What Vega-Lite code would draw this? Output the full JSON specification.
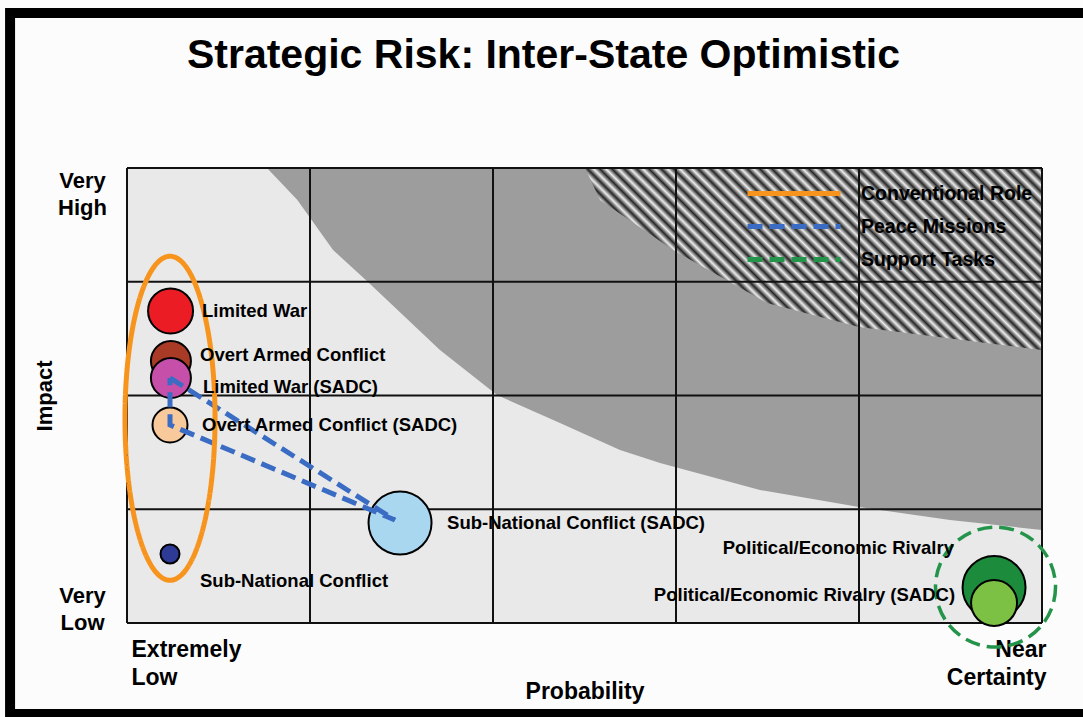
{
  "$schema": "https://vega.github.io/schema/vega-lite/v6.json",
  "width": 915,
  "height": 455,
  "autosize": {"type": "none"},
  "padding": {"left": 127, "top": 168, "right": 41, "bottom": 94},
  "background": "#fcfcfc",
  "title": {
    "text": "Strategic Risk: Inter-State Optimistic",
    "font": "Liberation Sans",
    "fontSize": 41,
    "fontWeight": "bold",
    "color": "#000000",
    "anchor": "middle",
    "frame": "group",
    "baseline": "bottom",
    "dx": -41,
    "offset": -110
  },
  "resolve": {"axis": {"x": "independent", "y": "independent"}},
  "datasets": {
    "bubbles": [
      {"name": "Limited War", "x": 0.238, "y": 2.743, "magnitude": 4.5, "lx": 0.41, "ly": 2.743},
      {"name": "Overt Armed Conflict", "x": 0.24, "y": 2.303, "magnitude": 4.0, "lx": 0.399, "ly": 2.356},
      {"name": "Limited War (SADC)", "x": 0.24, "y": 2.154, "magnitude": 4.0, "lx": 0.415, "ly": 2.075},
      {"name": "Overt Armed Conflict (SADC)", "x": 0.235, "y": 1.741, "magnitude": 3.5, "lx": 0.41, "ly": 1.741},
      {"name": "Sub-National Conflict", "x": 0.235, "y": 0.607, "magnitude": 1.9, "lx": 0.399, "ly": 0.369},
      {"name": "Sub-National Conflict (SADC)", "x": 1.492, "y": 0.879, "magnitude": 6.3, "lx": 1.749, "ly": 0.879},
      {"name": "Political/Economic Rivalry", "x": 4.738, "y": 0.312, "magnitude": 6.3, "lx": 4.519, "ly": 0.659},
      {"name": "Political/Economic Rivalry (SADC)", "x": 4.738, "y": 0.176, "magnitude": 4.6, "lx": 4.525, "ly": 0.246}
    ],
    "missions": [
      {"role": "Peace Missions", "step": 1, "x": 0.235, "y": 2.154},
      {"role": "Peace Missions", "step": 2, "x": 1.464, "y": 0.905},
      {"role": "Peace Missions", "step": 3, "x": 0.235, "y": 1.741},
      {"role": "Peace Missions", "step": 4, "x": 0.235, "y": 2.154}
    ],
    "groups": [
      {"role": "Conventional Role", "x": 0.235, "y": 1.8},
      {"role": "Support Tasks", "x": 4.746, "y": 0.316}
    ],
    "hatch": [
      {"band": "fine", "x": 0.765, "y": 4.0},
      {"band": "fine", "x": 0.93, "y": 3.72},
      {"band": "fine", "x": 1.126, "y": 3.279},
      {"band": "fine", "x": 1.311, "y": 3.007},
      {"band": "fine", "x": 1.71, "y": 2.4},
      {"band": "fine", "x": 2.022, "y": 2.004},
      {"band": "fine", "x": 2.366, "y": 1.758},
      {"band": "fine", "x": 2.694, "y": 1.521},
      {"band": "fine", "x": 2.913, "y": 1.407},
      {"band": "fine", "x": 3.459, "y": 1.169},
      {"band": "fine", "x": 4.0, "y": 1.02},
      {"band": "fine", "x": 4.497, "y": 0.905},
      {"band": "fine", "x": 5.0, "y": 0.818},
      {"band": "coarse", "x": 2.503, "y": 4.0},
      {"band": "coarse", "x": 2.585, "y": 3.719},
      {"band": "coarse", "x": 2.984, "y": 3.279},
      {"band": "coarse", "x": 3.497, "y": 2.813},
      {"band": "coarse", "x": 4.0, "y": 2.602},
      {"band": "coarse", "x": 5.0, "y": 2.4}
    ],
    "gridx": [{"x": 0}, {"x": 1}, {"x": 2}, {"x": 3}, {"x": 4}, {"x": 5}],
    "gridy": [{"y": 0}, {"y": 1}, {"y": 2}, {"y": 3}, {"y": 4}]
  },
  "layer": [
    {
      "data": {"values": [{}]},
      "mark": {"type": "rect", "fill": "transparent", "stroke": "#000000", "strokeWidth": 10, "clip": false},
      "encoding": {
        "x": {"datum": -0.639, "type": "quantitative", "scale": {"domain": [0, 5], "nice": false, "zero": false}, "axis": null},
        "x2": {"datum": 5.29},
        "y": {"datum": 5.363, "type": "quantitative", "scale": {"domain": [0, 4], "nice": false, "zero": false}, "axis": null},
        "y2": {"datum": -0.8}
      }
    },
    {
      "data": {"name": "hatch"},
      "transform": [{"filter": "datum.band == 'fine'"}],
      "mark": {"type": "area", "orient": "vertical", "color": "#9d9d9d", "opacity": 1},
      "encoding": {
        "x": {"field": "x", "type": "quantitative", "axis": null},
        "y": {"field": "y", "type": "quantitative", "axis": null},
        "y2": {"datum": 4}
      }
    },
    {
      "data": {"name": "hatch"},
      "transform": [{"filter": "datum.band == 'coarse'"}],
      "mark": {
        "type": "area",
        "orient": "vertical",
        "opacity": 1,
        "color": {
          "gradient": "linear",
          "x1": 0, "y1": 0.398, "x2": 1, "y2": 0,
          "stops": [
            {"offset": 0, "color": "#262626"}, {"offset": 0.01163, "color": "#ececec"},
            {"offset": 0.02326, "color": "#262626"}, {"offset": 0.03488, "color": "#ececec"},
            {"offset": 0.04651, "color": "#262626"}, {"offset": 0.05814, "color": "#ececec"},
            {"offset": 0.06977, "color": "#262626"}, {"offset": 0.0814, "color": "#ececec"},
            {"offset": 0.09302, "color": "#262626"}, {"offset": 0.10465, "color": "#ececec"},
            {"offset": 0.11628, "color": "#262626"}, {"offset": 0.12791, "color": "#ececec"},
            {"offset": 0.13953, "color": "#262626"}, {"offset": 0.15116, "color": "#ececec"},
            {"offset": 0.16279, "color": "#262626"}, {"offset": 0.17442, "color": "#ececec"},
            {"offset": 0.18605, "color": "#262626"}, {"offset": 0.19767, "color": "#ececec"},
            {"offset": 0.2093, "color": "#262626"}, {"offset": 0.22093, "color": "#ececec"},
            {"offset": 0.23256, "color": "#262626"}, {"offset": 0.24419, "color": "#ececec"},
            {"offset": 0.25581, "color": "#262626"}, {"offset": 0.26744, "color": "#ececec"},
            {"offset": 0.27907, "color": "#262626"}, {"offset": 0.2907, "color": "#ececec"},
            {"offset": 0.30233, "color": "#262626"}, {"offset": 0.31395, "color": "#ececec"},
            {"offset": 0.32558, "color": "#262626"}, {"offset": 0.33721, "color": "#ececec"},
            {"offset": 0.34884, "color": "#262626"}, {"offset": 0.36047, "color": "#ececec"},
            {"offset": 0.37209, "color": "#262626"}, {"offset": 0.38372, "color": "#ececec"},
            {"offset": 0.39535, "color": "#262626"}, {"offset": 0.40698, "color": "#ececec"},
            {"offset": 0.4186, "color": "#262626"}, {"offset": 0.43023, "color": "#ececec"},
            {"offset": 0.44186, "color": "#262626"}, {"offset": 0.45349, "color": "#ececec"},
            {"offset": 0.46512, "color": "#262626"}, {"offset": 0.47674, "color": "#ececec"},
            {"offset": 0.48837, "color": "#262626"}, {"offset": 0.5, "color": "#ececec"},
            {"offset": 0.51163, "color": "#262626"}, {"offset": 0.52326, "color": "#ececec"},
            {"offset": 0.53488, "color": "#262626"}, {"offset": 0.54651, "color": "#ececec"},
            {"offset": 0.55814, "color": "#262626"}, {"offset": 0.56977, "color": "#ececec"},
            {"offset": 0.5814, "color": "#262626"}, {"offset": 0.59302, "color": "#ececec"},
            {"offset": 0.60465, "color": "#262626"}, {"offset": 0.61628, "color": "#ececec"},
            {"offset": 0.62791, "color": "#262626"}, {"offset": 0.63953, "color": "#ececec"},
            {"offset": 0.65116, "color": "#262626"}, {"offset": 0.66279, "color": "#ececec"},
            {"offset": 0.67442, "color": "#262626"}, {"offset": 0.68605, "color": "#ececec"},
            {"offset": 0.69767, "color": "#262626"}, {"offset": 0.7093, "color": "#ececec"},
            {"offset": 0.72093, "color": "#262626"}, {"offset": 0.73256, "color": "#ececec"},
            {"offset": 0.74419, "color": "#262626"}, {"offset": 0.75581, "color": "#ececec"},
            {"offset": 0.76744, "color": "#262626"}, {"offset": 0.77907, "color": "#ececec"},
            {"offset": 0.7907, "color": "#262626"}, {"offset": 0.80233, "color": "#ececec"},
            {"offset": 0.81395, "color": "#262626"}, {"offset": 0.82558, "color": "#ececec"},
            {"offset": 0.83721, "color": "#262626"}, {"offset": 0.84884, "color": "#ececec"},
            {"offset": 0.86047, "color": "#262626"}, {"offset": 0.87209, "color": "#ececec"},
            {"offset": 0.88372, "color": "#262626"}, {"offset": 0.89535, "color": "#ececec"},
            {"offset": 0.90698, "color": "#262626"}, {"offset": 0.9186, "color": "#ececec"},
            {"offset": 0.93023, "color": "#262626"}, {"offset": 0.94186, "color": "#ececec"},
            {"offset": 0.95349, "color": "#262626"}, {"offset": 0.96512, "color": "#ececec"},
            {"offset": 0.97674, "color": "#262626"}, {"offset": 0.98837, "color": "#ececec"},
            {"offset": 1, "color": "#262626"}
          ]
        }
      },
      "encoding": {
        "x": {"field": "x", "type": "quantitative", "axis": null},
        "y": {"field": "y", "type": "quantitative", "axis": null},
        "y2": {"datum": 4}
      }
    },
    {
      "data": {"name": "gridx"},
      "mark": {"type": "rule", "color": "#111111", "strokeWidth": 2},
      "encoding": {
        "x": {
          "field": "x",
          "type": "quantitative",
          "scale": {"domain": [0, 5], "nice": false, "zero": false},
          "axis": {
            "values": [0, 5],
            "labelExpr": "split(datum.value == 0 ? 'Extremely|Low' : 'Near|Certainty', '|')",
            "labelFlush": true,
            "labelOverlap": false,
            "labelBound": false,
            "labelPadding": 15,
            "labelOffset": 4,
            "labelFontSize": 23,
            "labelLineHeight": 28,
            "title": "Probability",
            "titleFontSize": 23,
            "titlePadding": -9,
            "grid": false,
            "ticks": false,
            "domain": false
          }
        },
        "y": {"datum": 0, "type": "quantitative", "axis": null},
        "y2": {"datum": 4}
      }
    },
    {
      "data": {"name": "gridy"},
      "mark": {"type": "rule", "color": "#111111", "strokeWidth": 2},
      "encoding": {
        "y": {
          "field": "y",
          "type": "quantitative",
          "scale": {"domain": [0, 4], "nice": false, "zero": false},
          "axis": {
            "values": [0.246, 3.886],
            "labelExpr": "split(datum.value > 2 ? 'Very|High' : 'Very|Low', '|')",
            "labelFlush": false,
            "labelOverlap": false,
            "labelBound": false,
            "labelAlign": "center",
            "labelBaseline": "middle",
            "labelPadding": 45,
            "labelFontSize": 22,
            "labelLineHeight": 27,
            "title": "Impact",
            "titleFontSize": 22,
            "titlePadding": 1,
            "grid": false,
            "ticks": false,
            "domain": false
          }
        },
        "x": {"datum": 0, "type": "quantitative", "axis": null},
        "x2": {"datum": 5}
      }
    },
    {
      "data": {"name": "bubbles"},
      "mark": {"type": "point", "shape": "circle", "filled": true, "stroke": "#000000", "strokeWidth": 2, "opacity": 1, "fillOpacity": 1},
      "encoding": {
        "x": {"field": "x", "type": "quantitative", "axis": null},
        "y": {"field": "y", "type": "quantitative", "axis": null},
        "size": {"field": "magnitude", "type": "quantitative", "scale": {"type": "pow", "exponent": 2, "domain": [0, 10], "range": [0, 10000]}, "legend": null},
        "fill": {
          "field": "name",
          "type": "nominal",
          "scale": {
            "domain": ["Limited War", "Overt Armed Conflict", "Limited War (SADC)", "Overt Armed Conflict (SADC)", "Sub-National Conflict", "Sub-National Conflict (SADC)", "Political/Economic Rivalry", "Political/Economic Rivalry (SADC)"],
            "range": ["#ec1c24", "#a83a26", "#c64fa9", "#f8c99b", "#2d3b96", "#a9d7f0", "#1c8b3c", "#7cc143"]
          },
          "legend": null
        }
      }
    },
    {
      "data": {"name": "missions"},
      "mark": {"type": "line", "strokeWidth": 5, "strokeCap": "butt"},
      "encoding": {
        "x": {"field": "x", "type": "quantitative", "axis": null},
        "y": {"field": "y", "type": "quantitative", "axis": null},
        "order": {"field": "step", "type": "quantitative"},
        "stroke": {
          "field": "role",
          "type": "nominal",
          "title": null,
          "scale": {"domain": ["Conventional Role", "Peace Missions", "Support Tasks"], "range": ["#f7941d", "#3b6cc4", "#23944a"]},
          "legend": {"orient": "top-right", "offset": 9, "padding": 0, "symbolType": "stroke", "symbolSize": 8649, "symbolStrokeWidth": 5, "labelFont": "Liberation Sans", "labelFontWeight": "bold", "labelFontSize": 19.5, "labelColor": "#000000", "labelOffset": 18, "labelLimit": 400, "clipHeight": 33, "rowPadding": 0}
        },
        "strokeDash": {
          "field": "role",
          "type": "nominal",
          "title": null,
          "scale": {"domain": ["Conventional Role", "Peace Missions", "Support Tasks"], "range": [[1, 0], [15, 7], [15, 7]]},
          "legend": {"orient": "top-right", "offset": 9, "padding": 0, "symbolType": "stroke", "symbolSize": 8649, "symbolStrokeWidth": 5, "labelFont": "Liberation Sans", "labelFontWeight": "bold", "labelFontSize": 19.5, "labelColor": "#000000", "labelOffset": 18, "labelLimit": 400, "clipHeight": 33, "rowPadding": 0}
        }
      }
    },
    {
      "data": {"name": "groups"},
      "transform": [{"filter": "datum.role == 'Conventional Role'"}],
      "mark": {"type": "point", "filled": false, "fill": "transparent", "strokeWidth": 5, "opacity": 1, "size": 104976, "shape": "M 0 -1 A 0.278 1 0 1 1 0 1 A 0.278 1 0 1 1 0 -1 Z"},
      "encoding": {
        "x": {"field": "x", "type": "quantitative", "axis": null},
        "y": {"field": "y", "type": "quantitative", "axis": null},
        "stroke": {"field": "role", "type": "nominal", "title": null,
          "legend": {"orient": "top-right", "offset": 9, "padding": 0, "symbolType": "stroke", "symbolSize": 8649, "symbolStrokeWidth": 5, "labelFont": "Liberation Sans", "labelFontWeight": "bold", "labelFontSize": 19.5, "labelColor": "#000000", "labelOffset": 18, "labelLimit": 400, "clipHeight": 33, "rowPadding": 0}},
        "strokeDash": {"field": "role", "type": "nominal", "title": null,
          "legend": {"orient": "top-right", "offset": 9, "padding": 0, "symbolType": "stroke", "symbolSize": 8649, "symbolStrokeWidth": 5, "labelFont": "Liberation Sans", "labelFontWeight": "bold", "labelFontSize": 19.5, "labelColor": "#000000", "labelOffset": 18, "labelLimit": 400, "clipHeight": 33, "rowPadding": 0}}
      }
    },
    {
      "data": {"name": "groups"},
      "transform": [{"filter": "datum.role == 'Support Tasks'"}],
      "mark": {"type": "point", "filled": false, "fill": "transparent", "strokeWidth": 3.5, "opacity": 1, "size": 14400, "shape": "circle"},
      "encoding": {
        "x": {"field": "x", "type": "quantitative", "axis": null},
        "y": {"field": "y", "type": "quantitative", "axis": null},
        "stroke": {"field": "role", "type": "nominal", "title": null,
          "legend": {"orient": "top-right", "offset": 9, "padding": 0, "symbolType": "stroke", "symbolSize": 8649, "symbolStrokeWidth": 5, "labelFont": "Liberation Sans", "labelFontWeight": "bold", "labelFontSize": 19.5, "labelColor": "#000000", "labelOffset": 18, "labelLimit": 400, "clipHeight": 33, "rowPadding": 0}},
        "strokeDash": {"field": "role", "type": "nominal", "title": null,
          "legend": {"orient": "top-right", "offset": 9, "padding": 0, "symbolType": "stroke", "symbolSize": 8649, "symbolStrokeWidth": 5, "labelFont": "Liberation Sans", "labelFontWeight": "bold", "labelFontSize": 19.5, "labelColor": "#000000", "labelOffset": 18, "labelLimit": 400, "clipHeight": 33, "rowPadding": 0}}
      }
    },
    {
      "data": {"name": "bubbles"},
      "transform": [{"filter": "datum.lx > datum.x"}],
      "mark": {"type": "text", "align": "left", "baseline": "middle", "font": "Liberation Sans", "fontWeight": "bold", "fontSize": 18.5, "color": "#000000"},
      "encoding": {
        "x": {"field": "lx", "type": "quantitative", "axis": null},
        "y": {"field": "ly", "type": "quantitative", "axis": null},
        "text": {"field": "name", "type": "nominal"}
      }
    },
    {
      "data": {"name": "bubbles"},
      "transform": [{"filter": "datum.lx < datum.x"}],
      "mark": {"type": "text", "align": "right", "baseline": "middle", "font": "Liberation Sans", "fontWeight": "bold", "fontSize": 18.5, "color": "#000000"},
      "encoding": {
        "x": {"field": "lx", "type": "quantitative", "axis": null},
        "y": {"field": "ly", "type": "quantitative", "axis": null},
        "text": {"field": "name", "type": "nominal"}
      }
    }
  ],
  "config": {
    "view": {"fill": "#e9e9e9", "stroke": null},
    "font": "Liberation Sans",
    "axis": {
      "labelFont": "Liberation Sans",
      "labelFontWeight": "bold",
      "labelColor": "#000000",
      "titleFont": "Liberation Sans",
      "titleFontWeight": "bold",
      "titleColor": "#000000"
    }
  }
}
